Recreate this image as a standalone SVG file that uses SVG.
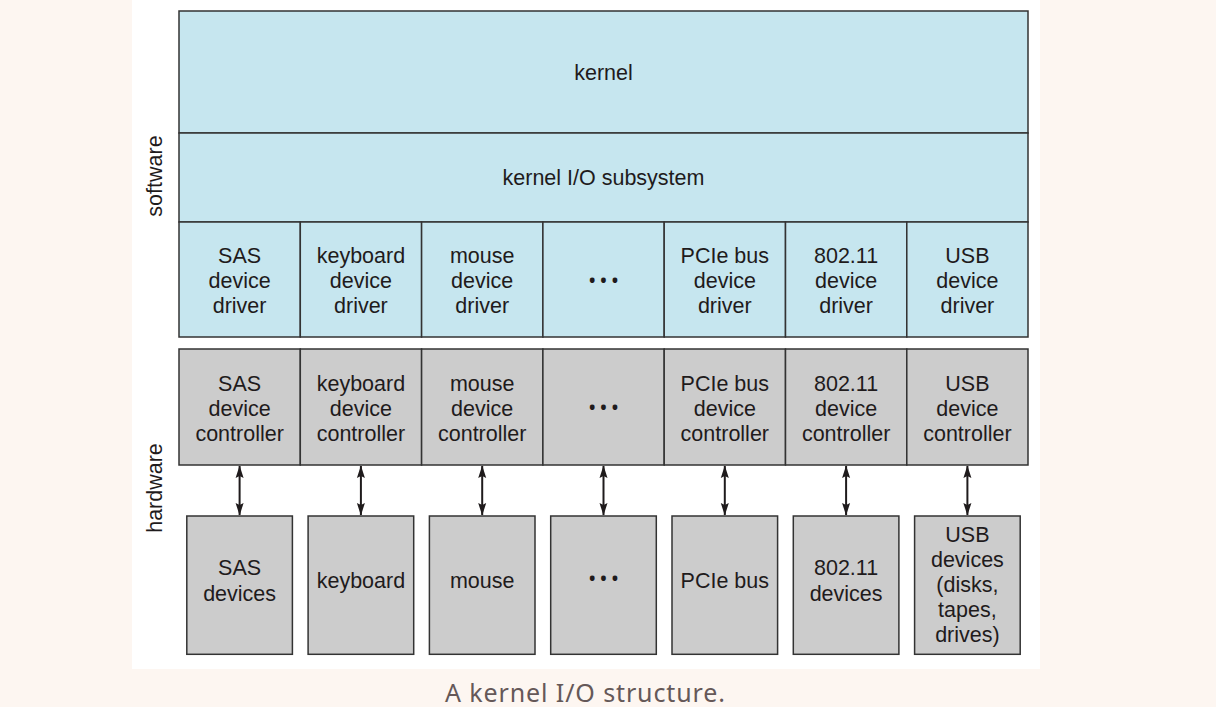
<svg xmlns="http://www.w3.org/2000/svg" width="1216" height="707" viewBox="0 0 1216 707">
  <style>
    .sw { fill: #c6e6ef; stroke: #333333; stroke-width: 1.5; }
    .hw { fill: #cccccc; stroke: #333333; stroke-width: 1.5; }
    .t { font-family: "Liberation Sans", Arial, sans-serif; font-size: 21.5px; fill: #1f1b1c; text-anchor: middle; }
    .dots { font-family: "Open Sans", "Noto Sans", sans-serif; font-size: 17px; font-weight: 700; fill: #1f1b1c; text-anchor: middle; letter-spacing: 5px; }
    .side { font-family: "Liberation Sans", Arial, sans-serif; font-size: 21.5px; fill: #1f1b1c; text-anchor: middle; }
    .conn { stroke: #1f1b1c; stroke-width: 2; fill: none; }
    .cap { font-family: "Noto Sans", "Open Sans", sans-serif; font-size: 25px; fill: #655858; text-anchor: middle; }
  </style>
  <defs>
    <marker id="ah" markerUnits="userSpaceOnUse" markerWidth="13" markerHeight="9" refX="12" refY="4.5" orient="auto-start-reverse" viewBox="0 0 13 9">
      <path d="M0,0.5 L12.5,4.5 L0,8.5 L2,4.5 z" fill="#1f1b1c"/>
    </marker>
  </defs>
  <rect x="0" y="0" width="1216" height="707" fill="#fdf6f1"/>
  <rect x="132" y="0" width="908" height="669" fill="#ffffff"/>

  <g id="label-software"><text class="side" transform="translate(162,176) rotate(-90)">software</text></g>
  <g id="label-hardware"><text class="side" transform="translate(162,488) rotate(-90)">hardware</text></g>

  <g id="kernel"><rect class="sw" x="179" y="11" width="849" height="122"/><text class="t" x="603.5" y="80">kernel</text></g>
  <g id="kernel-io"><rect class="sw" x="179" y="133" width="849" height="89"/><text class="t" x="603.5" y="185">kernel I/O subsystem</text></g>

  <g id="drv-sas"><rect class="sw" x="179" y="222" width="121.3" height="115"/><text class="t" y="263"><tspan x="239.6">SAS</tspan><tspan x="239.6" dy="25">device</tspan><tspan x="239.6" dy="25">driver</tspan></text></g>
  <g id="drv-kbd"><rect class="sw" x="300.3" y="222" width="121.3" height="115"/><text class="t" y="263"><tspan x="360.9">keyboard</tspan><tspan x="360.9" dy="25">device</tspan><tspan x="360.9" dy="25">driver</tspan></text></g>
  <g id="drv-mouse"><rect class="sw" x="421.6" y="222" width="121.3" height="115"/><text class="t" y="263"><tspan x="482.2">mouse</tspan><tspan x="482.2" dy="25">device</tspan><tspan x="482.2" dy="25">driver</tspan></text></g>
  <g id="drv-dots"><rect class="sw" x="542.9" y="222" width="121.3" height="115"/><text class="dots" x="606" y="287">•••</text></g>
  <g id="drv-pcie"><rect class="sw" x="664.2" y="222" width="121.3" height="115"/><text class="t" y="263"><tspan x="724.8">PCIe bus</tspan><tspan x="724.8" dy="25">device</tspan><tspan x="724.8" dy="25">driver</tspan></text></g>
  <g id="drv-80211"><rect class="sw" x="785.5" y="222" width="121.3" height="115"/><text class="t" y="263"><tspan x="846.1">802.11</tspan><tspan x="846.1" dy="25">device</tspan><tspan x="846.1" dy="25">driver</tspan></text></g>
  <g id="drv-usb"><rect class="sw" x="906.8" y="222" width="121.2" height="115"/><text class="t" y="263"><tspan x="967.4">USB</tspan><tspan x="967.4" dy="25">device</tspan><tspan x="967.4" dy="25">driver</tspan></text></g>

  <g id="ctl-sas"><rect class="hw" x="179" y="349" width="121.3" height="116"/><text class="t" y="391"><tspan x="239.6">SAS</tspan><tspan x="239.6" dy="25">device</tspan><tspan x="239.6" dy="25">controller</tspan></text></g>
  <g id="ctl-kbd"><rect class="hw" x="300.3" y="349" width="121.3" height="116"/><text class="t" y="391"><tspan x="360.9">keyboard</tspan><tspan x="360.9" dy="25">device</tspan><tspan x="360.9" dy="25">controller</tspan></text></g>
  <g id="ctl-mouse"><rect class="hw" x="421.6" y="349" width="121.3" height="116"/><text class="t" y="391"><tspan x="482.2">mouse</tspan><tspan x="482.2" dy="25">device</tspan><tspan x="482.2" dy="25">controller</tspan></text></g>
  <g id="ctl-dots"><rect class="hw" x="542.9" y="349" width="121.3" height="116"/><text class="dots" x="606" y="414">•••</text></g>
  <g id="ctl-pcie"><rect class="hw" x="664.2" y="349" width="121.3" height="116"/><text class="t" y="391"><tspan x="724.8">PCIe bus</tspan><tspan x="724.8" dy="25">device</tspan><tspan x="724.8" dy="25">controller</tspan></text></g>
  <g id="ctl-80211"><rect class="hw" x="785.5" y="349" width="121.3" height="116"/><text class="t" y="391"><tspan x="846.1">802.11</tspan><tspan x="846.1" dy="25">device</tspan><tspan x="846.1" dy="25">controller</tspan></text></g>
  <g id="ctl-usb"><rect class="hw" x="906.8" y="349" width="121.2" height="116"/><text class="t" y="391"><tspan x="967.4">USB</tspan><tspan x="967.4" dy="25">device</tspan><tspan x="967.4" dy="25">controller</tspan></text></g>

  <g id="dev-sas"><rect class="hw" x="186.8" y="516" width="105.6" height="138.3"/><text class="t" y="575"><tspan x="239.6">SAS</tspan><tspan x="239.6" dy="25.5">devices</tspan></text></g>
  <g id="dev-kbd"><rect class="hw" x="308.1" y="516" width="105.6" height="138.3"/><text class="t" x="360.9" y="588">keyboard</text></g>
  <g id="dev-mouse"><rect class="hw" x="429.4" y="516" width="105.6" height="138.3"/><text class="t" x="482.2" y="588">mouse</text></g>
  <g id="dev-dots"><rect class="hw" x="550.7" y="516" width="105.6" height="138.3"/><text class="dots" x="606" y="585">•••</text></g>
  <g id="dev-pcie"><rect class="hw" x="672" y="516" width="105.6" height="138.3"/><text class="t" x="724.8" y="588">PCIe bus</text></g>
  <g id="dev-80211"><rect class="hw" x="793.3" y="516" width="105.6" height="138.3"/><text class="t" y="575"><tspan x="846.1">802.11</tspan><tspan x="846.1" dy="25.5">devices</tspan></text></g>
  <g id="dev-usb"><rect class="hw" x="914.6" y="516" width="105.6" height="138.3"/><text class="t" y="542"><tspan x="967.4">USB</tspan><tspan x="967.4" dy="25">devices</tspan><tspan x="967.4" dy="25">(disks,</tspan><tspan x="967.4" dy="25">tapes,</tspan><tspan x="967.4" dy="25">drives)</tspan></text></g>

  <g id="connectors">
    <line class="conn" x1="239.6" y1="466" x2="239.6" y2="515" marker-start="url(#ah)" marker-end="url(#ah)"/>
    <line class="conn" x1="360.9" y1="466" x2="360.9" y2="515" marker-start="url(#ah)" marker-end="url(#ah)"/>
    <line class="conn" x1="482.2" y1="466" x2="482.2" y2="515" marker-start="url(#ah)" marker-end="url(#ah)"/>
    <line class="conn" x1="603.5" y1="466" x2="603.5" y2="515" marker-start="url(#ah)" marker-end="url(#ah)"/>
    <line class="conn" x1="724.8" y1="466" x2="724.8" y2="515" marker-start="url(#ah)" marker-end="url(#ah)"/>
    <line class="conn" x1="846.1" y1="466" x2="846.1" y2="515" marker-start="url(#ah)" marker-end="url(#ah)"/>
    <line class="conn" x1="967.4" y1="466" x2="967.4" y2="515" marker-start="url(#ah)" marker-end="url(#ah)"/>
  </g>

  <text class="cap" x="585" y="702" textLength="280" lengthAdjust="spacing">A kernel I/O structure.</text>
</svg>
